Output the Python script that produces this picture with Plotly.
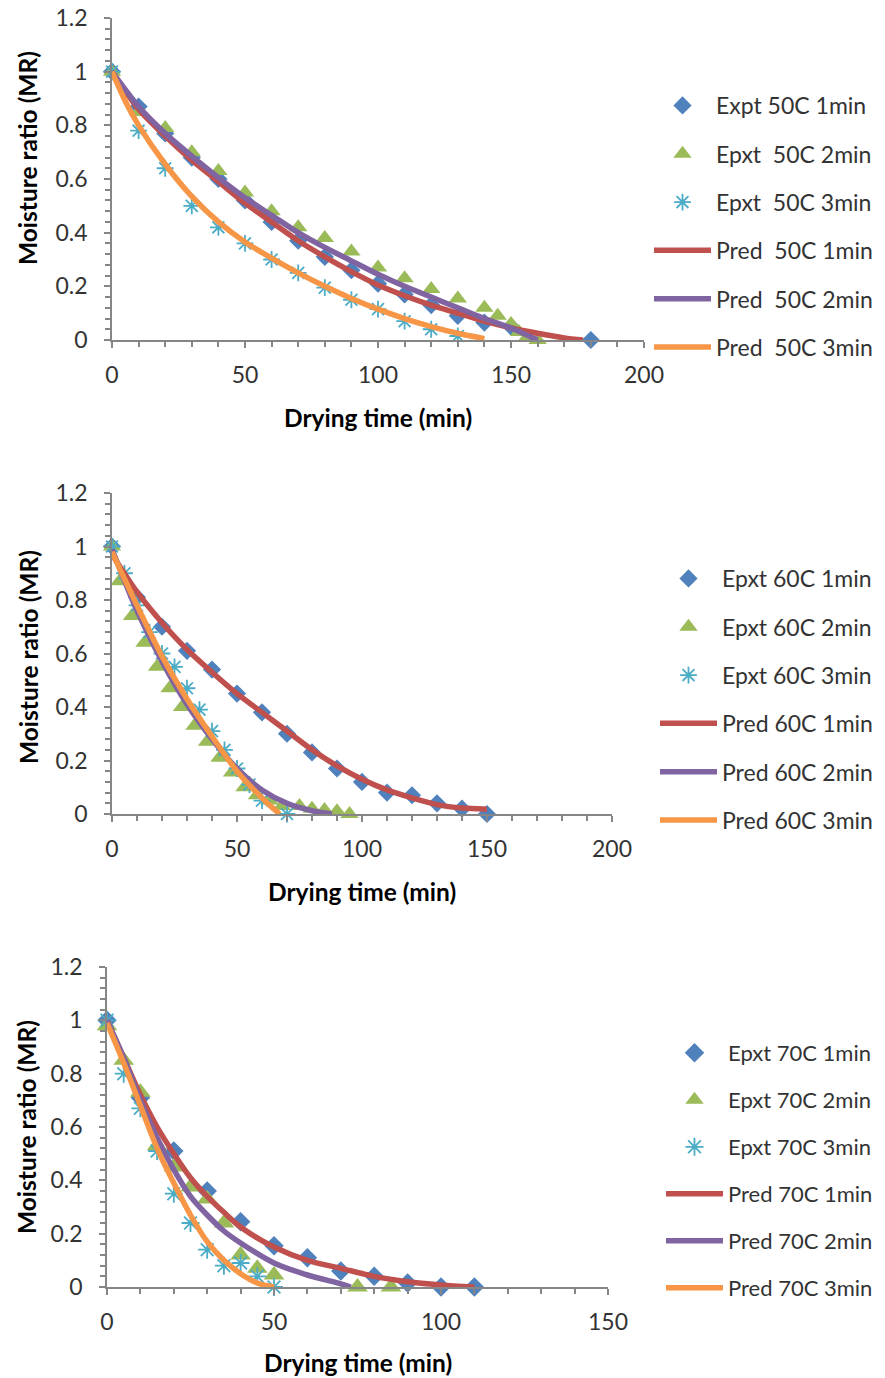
import plotly.graph_objects as go

W, H = 885, 1378

# ---------------- data ----------------
# 50 C
t50_1 = [0, 10, 20, 30, 40, 50, 60, 70, 80, 90, 100, 110, 120, 130, 140, 150, 180]
mr50_1 = [1.0, 0.87, 0.77, 0.68, 0.60, 0.52, 0.44, 0.37, 0.31, 0.26, 0.21, 0.17, 0.13, 0.09, 0.065, 0.05, 0.0]
t50_2 = [0, 10, 20, 30, 40, 50, 60, 70, 80, 90, 100, 110, 120, 130, 140, 145, 150, 153, 156, 160]
mr50_2 = [1.0, 0.85, 0.79, 0.70, 0.63, 0.55, 0.48, 0.42, 0.38, 0.33, 0.27, 0.23, 0.19, 0.155, 0.12, 0.09, 0.06, 0.03, 0.01, 0.0]
t50_3 = [0, 10, 20, 30, 40, 50, 60, 70, 80, 90, 100, 110, 120, 130]
mr50_3 = [1.0, 0.78, 0.64, 0.50, 0.42, 0.36, 0.30, 0.25, 0.195, 0.15, 0.115, 0.07, 0.04, 0.015]

tp50_1 = [0, 10, 20, 30, 40, 50, 60, 70, 80, 90, 100, 110, 120, 130, 140, 150, 160, 170, 177]
p50_1 = [1.0, 0.86, 0.76, 0.67, 0.59, 0.51, 0.44, 0.37, 0.31, 0.255, 0.205, 0.165, 0.13, 0.10, 0.07, 0.045, 0.025, 0.008, 0.0]
tp50_2 = [0, 10, 20, 30, 40, 50, 60, 70, 80, 90, 100, 110, 120, 130, 140, 150, 160]
p50_2 = [1.0, 0.87, 0.77, 0.685, 0.605, 0.53, 0.465, 0.40, 0.345, 0.295, 0.245, 0.20, 0.16, 0.12, 0.08, 0.045, 0.0]
tp50_3 = [0, 5, 10, 20, 30, 40, 50, 60, 70, 80, 90, 100, 110, 120, 130, 140]
p50_3 = [1.0, 0.89, 0.80, 0.655, 0.535, 0.44, 0.365, 0.305, 0.25, 0.20, 0.155, 0.115, 0.08, 0.05, 0.025, 0.005]

# 60 C
t60_1 = [0, 10, 20, 30, 40, 50, 60, 70, 80, 90, 100, 110, 120, 130, 140, 150]
mr60_1 = [1.0, 0.81, 0.70, 0.61, 0.54, 0.45, 0.38, 0.30, 0.23, 0.17, 0.12, 0.08, 0.07, 0.04, 0.02, 0.0]
t60_2 = [0, 3, 8, 13, 18, 23, 28, 33, 38, 43, 48, 53, 58, 63, 68, 75, 80, 85, 90, 95]
mr60_2 = [1.0, 0.87, 0.74, 0.64, 0.55, 0.47, 0.40, 0.33, 0.27, 0.21, 0.155, 0.10, 0.07, 0.05, 0.03, 0.03, 0.02, 0.015, 0.01, 0.0]
t60_3 = [0, 5, 10, 15, 20, 25, 30, 35, 40, 45, 50, 55, 60, 70]
mr60_3 = [1.0, 0.90, 0.78, 0.68, 0.60, 0.55, 0.47, 0.39, 0.31, 0.24, 0.17, 0.11, 0.05, 0.0]

tp60_1 = [0, 10, 20, 30, 40, 50, 60, 70, 80, 90, 100, 110, 120, 130, 140, 150]
p60_1 = [0.97, 0.83, 0.715, 0.615, 0.53, 0.45, 0.38, 0.31, 0.24, 0.18, 0.13, 0.09, 0.06, 0.035, 0.022, 0.018]
tp60_2 = [0, 10, 20, 30, 40, 50, 60, 70, 80, 88]
p60_2 = [0.99, 0.76, 0.57, 0.41, 0.28, 0.17, 0.09, 0.04, 0.012, 0.0]
tp60_3 = [0, 10, 20, 30, 40, 50, 60, 67]
p60_3 = [0.98, 0.78, 0.59, 0.43, 0.29, 0.16, 0.06, 0.0]

# 70 C
t70_1 = [0, 10, 20, 30, 40, 50, 60, 70, 80, 90, 100, 110]
mr70_1 = [1.0, 0.71, 0.51, 0.36, 0.245, 0.155, 0.11, 0.06, 0.04, 0.015, 0.0, 0.0]
t70_2 = [0, 5, 10, 15, 20, 25, 30, 35, 40, 45, 50, 75, 85]
mr70_2 = [0.98, 0.85, 0.73, 0.53, 0.45, 0.375, 0.33, 0.24, 0.12, 0.07, 0.045, 0.0, 0.0]
t70_3 = [0, 5, 10, 15, 20, 25, 30, 35, 40, 45, 50]
mr70_3 = [1.0, 0.80, 0.67, 0.51, 0.35, 0.24, 0.14, 0.08, 0.09, 0.04, 0.0]

tp70_1 = [0, 5, 10, 15, 20, 25, 30, 35, 40, 50, 60, 70, 80, 90, 100, 110]
p70_1 = [1.0, 0.86, 0.72, 0.60, 0.50, 0.41, 0.34, 0.28, 0.225, 0.15, 0.10, 0.07, 0.04, 0.02, 0.008, 0.0]
tp70_2 = [0, 5, 10, 15, 20, 25, 30, 35, 40, 50, 60, 70, 73]
p70_2 = [1.0, 0.86, 0.70, 0.56, 0.44, 0.34, 0.27, 0.21, 0.165, 0.09, 0.045, 0.012, 0.0]
tp70_3 = [0, 5, 10, 15, 20, 25, 30, 35, 40, 45, 50]
p70_3 = [0.99, 0.84, 0.68, 0.52, 0.39, 0.27, 0.17, 0.10, 0.05, 0.015, 0.0]

names50 = ["Expt 50C 1min", "Epxt\u00a0 50C 2min", "Epxt\u00a0 50C 3min",
           "Pred\u00a0 50C 1min", "Pred\u00a0 50C 2min", "Pred\u00a0 50C 3min"]
names60 = ["Epxt 60C 1min", "Epxt 60C 2min", "Epxt 60C 3min",
           "Pred 60C 1min", "Pred 60C 2min", "Pred 60C 3min"]
names70 = ["Epxt 70C 1min", "Epxt 70C 2min", "Epxt 70C 3min",
           "Pred 70C 1min", "Pred 70C 2min", "Pred 70C 3min"]

x_titles = ["Drying time (min)", "Drying time (min)", "Drying time (min)"]
y_titles = ["Moisture ratio (MR)", "Moisture ratio (MR)", "Moisture ratio (MR)"]
x_max = [200, 200, 150]

# ---------------- styling ----------------
BLUE, RED, GREEN, PURPLE, AQUA, ORANGE = "#4F81BD", "#C0504D", "#9BBB59", "#8064A2", "#4BACC6", "#F79646"
FONT = "Lato, 'Open Sans', sans-serif"
AX = "#868686"
TXT = "#333333"

# pixel geometry of the three plot areas: (left, right, top, bottom)
boxes = [(112, 644, 18, 340), (112, 612, 493, 814), (107, 608, 967, 1287)]
leg_pos = [(649, 84), (655, 557), (661, 1032)]
leg_font = [23, 23, 22]
xt_pos = [(378, 417), (362, 891), (358, 1362)]
yt_pos = [(28, 158), (28, 657), (26, 1127)]
msize = [(14, 16, 14), (14, 16, 14), (15, 18, 15)]

panels = [
    (names50, (t50_1, mr50_1), (t50_2, mr50_2), (t50_3, mr50_3), (tp50_1, p50_1), (tp50_2, p50_2), (tp50_3, p50_3)),
    (names60, (t60_1, mr60_1), (t60_2, mr60_2), (t60_3, mr60_3), (tp60_1, p60_1), (tp60_2, p60_2), (tp60_3, p60_3)),
    (names70, (t70_1, mr70_1), (t70_2, mr70_2), (t70_3, mr70_3), (tp70_1, p70_1), (tp70_2, p70_2), (tp70_3, p70_3)),
]

fig = go.Figure()
layout = dict(width=W, height=H, margin=dict(l=0, r=0, t=0, b=0, autoexpand=False),
              paper_bgcolor="white", plot_bgcolor="white",
              font=dict(family=FONT, color=TXT), annotations=[])

for i, (names, e1, e2, e3, q1, q2, q3) in enumerate(panels):
    k = "" if i == 0 else str(i + 1)
    xa, ya = "x" + k, "y" + k
    leg = "legend" + k
    common = dict(xaxis=xa, yaxis=ya, legend=leg, cliponaxis=False)
    sd, st, sa = msize[i]
    fig.add_trace(go.Scatter(x=e1[0], y=e1[1], mode="markers", name=names[0], legendgroup=f"{i}a",
                             marker=dict(symbol="diamond", size=sd, color=BLUE), **common))
    fig.add_trace(go.Scatter(x=e2[0], y=e2[1], mode="markers", name=names[1], legendgroup=f"{i}b",
                             marker=dict(symbol="triangle-up", size=st, color=GREEN), **common))
    fig.add_trace(go.Scatter(x=e3[0], y=e3[1], mode="markers", name=names[2], legendgroup=f"{i}c",
                             marker=dict(symbol="asterisk-open", size=sa, color=AQUA,
                                         line=dict(width=1.8, color=AQUA)), **common))
    for (q, nm, col, g) in [(q1, names[3], RED, "d"), (q2, names[4], PURPLE, "e"), (q3, names[5], ORANGE, "f")]:
        fig.add_trace(go.Scatter(x=q[0], y=q[1], mode="lines", name=nm, legendgroup=f"{i}{g}",
                                 line=dict(color=col, width=5.5, shape="spline", smoothing=0.8), **common))

    l, r, t, b = boxes[i]
    axis_common = dict(showline=True, linecolor=AX, linewidth=1.5, showgrid=False, zeroline=False,
                       ticks="outside", tickcolor=AX, tickwidth=1.5, ticklen=6,
                       tickfont=dict(family=FONT, size=23, color=TXT))
    layout["xaxis" + k] = dict(domain=[l / W, r / W], anchor=ya, range=[0, x_max[i]], dtick=50, tick0=0,
                               ticklabelstandoff=8,
                               minor=dict(ticks="outside", dtick=10, ticklen=5, tickcolor=AX, tickwidth=1.5),
                               **axis_common)
    layout["yaxis" + k] = dict(domain=[1 - b / H, 1 - t / H], anchor=xa, range=[0, 1.2], dtick=0.2, tick0=0,
                               ticklabelstandoff=12,
                               minor=dict(ticks="outside", dtick=0.04, ticklen=5, tickcolor=AX, tickwidth=1.5),
                               **axis_common)
    lx, ly = leg_pos[i]
    layout[leg] = dict(x=lx / W, y=1 - ly / H, xanchor="left", yanchor="top", orientation="v",
                       traceorder="grouped", tracegroupgap=15.4, itemwidth=57, valign="middle",
                       font=dict(family=FONT, size=leg_font[i], color=TXT), bgcolor="rgba(0,0,0,0)")
    cx, cy = xt_pos[i]
    layout["annotations"].append(dict(text="<b>" + x_titles[i] + "</b>", x=cx / W, y=1 - cy / H,
                                      xref="paper", yref="paper", showarrow=False,
                                      xanchor="center", yanchor="middle",
                                      font=dict(family=FONT, size=24.5, color="#000000")))
    yx, yy = yt_pos[i]
    layout["annotations"].append(dict(text="<b>" + y_titles[i] + "</b>", x=yx / W, y=1 - yy / H,
                                      xref="paper", yref="paper", showarrow=False, textangle=-90,
                                      xanchor="center", yanchor="middle",
                                      font=dict(family=FONT, size=24.5, color="#000000")))

fig.update_layout(**layout)
fig.write_html("out.html")
